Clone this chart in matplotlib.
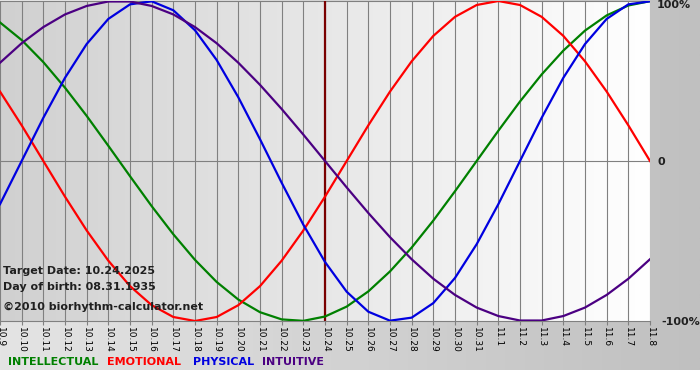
import matplotlib
matplotlib.use("Agg")
import matplotlib.pyplot as plt
import numpy as np
from matplotlib.colors import LinearSegmentedColormap

dates = ["10.9", "10.10", "10.11", "10.12", "10.13", "10.14", "10.15", "10.16", "10.17",
         "10.18", "10.19", "10.20", "10.21", "10.22", "10.23", "10.24", "10.25", "10.26",
         "10.27", "10.28", "10.29", "10.30", "10.31", "11.1", "11.2", "11.3", "11.4",
         "11.5", "11.6", "11.7", "11.8"]

physical = [-0.270, 0.000, 0.270, 0.520, 0.731, 0.888, 0.979, 0.998, 0.942, 0.817,
            0.631, 0.398, 0.136, -0.136, -0.398, -0.631, -0.817, -0.942, -0.998, -0.979,
            -0.888, -0.731, -0.520, -0.270, 0.000, 0.270, 0.520, 0.731, 0.888, 0.979, 0.998]
emotional = [0.434, 0.223, 0.000, -0.223, -0.434, -0.623, -0.782, -0.901, -0.975, -1.000,
             -0.975, -0.901, -0.782, -0.623, -0.434, -0.223, 0.000, 0.223, 0.434, 0.623,
             0.782, 0.901, 0.975, 1.000, 0.975, 0.901, 0.782, 0.623, 0.434, 0.223, 0.000]
intellectual = [0.866, 0.756, 0.618, 0.458, 0.282, 0.095, -0.095, -0.282, -0.458, -0.618,
                -0.756, -0.866, -0.945, -0.990, -0.999, -0.972, -0.910, -0.815, -0.690, -0.541,
                -0.372, -0.189, 0.000, 0.189, 0.372, 0.541, 0.690, 0.815, 0.910, 0.972, 0.999]
intuitive = [0.614, 0.736, 0.837, 0.916, 0.969, 0.997, 0.997, 0.969, 0.916, 0.837,
             0.736, 0.614, 0.476, 0.325, 0.165, 0.000, -0.165, -0.325, -0.476, -0.614,
             -0.736, -0.837, -0.916, -0.969, -0.997, -0.997, -0.969, -0.916, -0.837, -0.736, -0.614]

target_index = 15
target_date = "10.24.2025"
birth_date = "08.31.1935"

series = [("INTELLECTUAL", intellectual, "#008000"),
          ("EMOTIONAL", emotional, "#ff0000"),
          ("PHYSICAL", physical, "#0000e0"),
          ("INTUITIVE", intuitive, "#4b0082")]

W, H = 700, 380
fig = plt.figure(figsize=(W / 100, H / 100), dpi=100)
fig.patch.set_facecolor("white")

# figure background gradient (above bottom white strip)
bg = fig.add_axes([0, 10 / H, 1, 1 - 10 / H])
bg.axis("off")
cm_bg = LinearSegmentedColormap.from_list("bg", ["#e4e4e4", "#c0c0c0"])
bg.imshow(np.linspace(0, 1, 256)[None, :], aspect="auto", cmap=cm_bg,
          extent=[0, 1, 0, 1])
bg.set_xlim(0, 1); bg.set_ylim(0, 1)

left, right = 0 / W, 650 / W
top, bottom = 1 - 1 / H, 1 - 321 / H
ax = fig.add_axes([left, bottom, right - left, top - bottom])
n = len(dates)
x = np.arange(n)
ax.set_xlim(0, n - 1)
ax.set_ylim(-1, 1)

cm_plot = LinearSegmentedColormap.from_list("pl", ["#d0d0d0", "#ffffff"])
ax.imshow(np.linspace(0, 1, 256)[None, :], aspect="auto", cmap=cm_plot,
          extent=[0, n - 1, -1, 1], zorder=0)

for xi in x:
    ax.axvline(xi, color="#808080", lw=0.8, zorder=1)
ax.axhline(0, color="#808080", lw=0.8, zorder=1)
ax.axhline(1, color="#808080", lw=0.8, zorder=1)

ax.axvline(target_index, color="#7a0000", lw=1.6, zorder=2)

for name, vals, col in series:
    ax.plot(x, vals, color=col, lw=1.6, zorder=3, solid_joinstyle="round")

for s in ["top", "left", "right"]:
    ax.spines[s].set_visible(False)
ax.spines["bottom"].set_color("#808080")
ax.spines["bottom"].set_linewidth(0.8)
ax.set_xticks(x)
ax.set_xticklabels(dates, rotation=270, fontsize=6.5, family="DejaVu Sans")
ax.tick_params(axis="x", direction="out", length=3, color="#808080", pad=1)
ax.set_yticks([])

# right side labels
fig.text(657 / W, 1 - 5 / H, "100%", ha="left", va="center", fontsize=8,
         fontweight="bold", color="#202020")
fig.text(658 / W, 1 - 162 / H, "0", ha="left", va="center", fontsize=8,
         fontweight="bold", color="#202020")
fig.text(700 / W, 1 - 322 / H, "-100%", ha="right", va="center", fontsize=8,
         fontweight="bold", color="#202020")

# info text
info_kw = dict(ha="left", va="center", fontsize=8, fontweight="bold", color="#202020")
fig.text(3 / W, 1 - 271 / H, "Target Date: " + target_date, **info_kw)
fig.text(3 / W, 1 - 287 / H, "Day of birth: " + birth_date, **info_kw)
fig.text(3 / W, 1 - 307 / H, "\u00a92010 biorhythm-calculator.net", **info_kw)

# legend
leg_x = [8, 107, 193, 262]
for (name, vals, col), lx in zip(series, leg_x):
    fig.text(lx / W, 1 - 362 / H, name, ha="left", va="center", fontsize=8,
             fontweight="bold", color=col)

fig.savefig("out.png", dpi=100)
